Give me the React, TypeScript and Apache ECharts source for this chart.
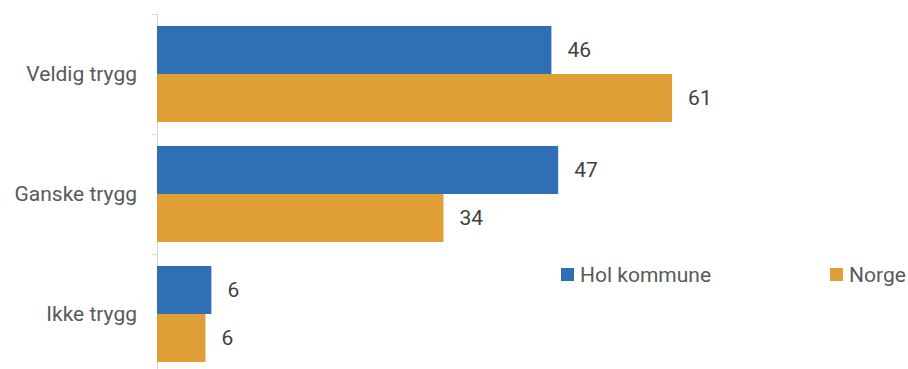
import React, { useEffect, useRef } from "react";
import * as echarts from "echarts";

const categories = ["Veldig trygg", "Ganske trygg", "Ikke trygg"];
const seriesNames = ["Hol kommune", "Norge"];
const holValues = [46.4, 47.2, 6.4];
const norgeValues = [60.6, 33.7, 5.7];
const colors = ["#2e6fb6", "#e09e37"];

const FONT = "Roboto";

export default function App() {
  const ref = useRef<HTMLDivElement>(null);
  useEffect(() => {
    if (!ref.current) return;
    const chart = echarts.init(ref.current, null, { renderer: "svg" });
    const label = {
      show: true,
      position: "right" as const,
      distance: 16,
      color: "#404040",
      fontSize: 21,
      fontFamily: FONT,
      formatter: (p: any) => String(Math.round(p.value)),
    };
    const legendBase = {
      top: 264,
      padding: 0,
      itemWidth: 13,
      itemHeight: 13,
      icon: "rect",
      textStyle: { fontSize: 21, color: "#595959", fontFamily: FONT, padding: [0, 0, 0, 1] },
    };
    chart.setOption({
      animation: false,
      color: colors,
      grid: {
        left: 157,
        top: 14,
        width: 748,
        height: 360,
        containLabel: false,
        outerBoundsMode: "none",
      },
      legend: [
        { ...legendBase, left: 561, data: [seriesNames[0]] },
        { ...legendBase, left: 830, data: [seriesNames[1]] },
      ],
      xAxis: {
        type: "value",
        min: 0,
        max: 88,
        show: false,
      },
      yAxis: {
        type: "category",
        inverse: true,
        data: categories,
        axisLine: { show: true, lineStyle: { color: "#d9d9d9", width: 1 } },
        axisTick: { show: true, length: 5, lineStyle: { color: "#d9d9d9" } },
        axisLabel: { margin: 20, fontSize: 21, color: "#595959", fontFamily: FONT },
      },
      series: [
        {
          name: seriesNames[0],
          type: "bar",
          data: holValues,
          barGap: "0%",
          barCategoryGap: "20%",
          label,
        },
        {
          name: seriesNames[1],
          type: "bar",
          data: norgeValues,
          barGap: "0%",
          barCategoryGap: "20%",
          label,
        },
      ],
    });
    return () => chart.dispose();
  }, []);
  return (
    <div
      ref={ref}
      style={{ position: "fixed", left: 0, top: 0, width: 908, height: 369, background: "#fff" }}
    />
  );
}
